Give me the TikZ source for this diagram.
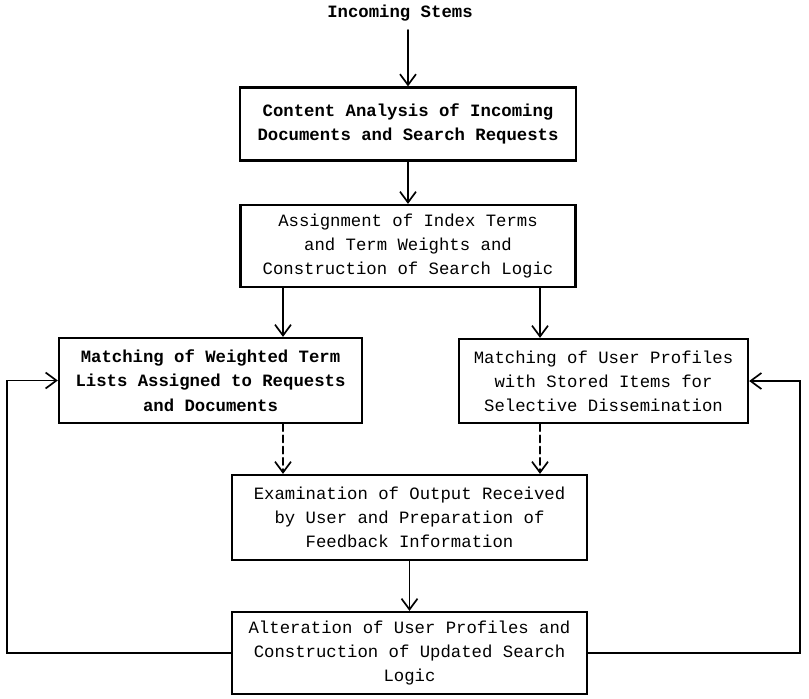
\documentclass[tikz,border=0pt]{standalone}
\usepackage{fontspec}
\setmonofont{Liberation Mono}
\usepackage{tikz}
\usetikzlibrary{arrows.meta,calc}
\tikzset{
  flowbox/.style={draw=black, line width=1.6pt, align=center, inner sep=2pt,
                  font=\ttfamily\fontsize{12.3}{17.2}\selectfont},
  boldbox/.style={flowbox, font=\ttfamily\bfseries\fontsize{12.3}{17.2}\selectfont},
  flowarrow/.style={line width=1.3pt, -{Straight Barb[length=2.7mm,width=4mm,line width=1.2pt]}},
  optarrow/.style={flowarrow, dash pattern=on 5pt off 3pt},
  headlabel/.style={font=\ttfamily\bfseries\fontsize{12.3}{17.2}\selectfont},
}

\begin{document}
\begin{tikzpicture}[x=0.025cm, y=-0.025cm, line cap=round]
  \useasboundingbox (0,0) rectangle (809,698);
  % ====== top: incoming stems ======
  \node[headlabel] (stems) at (400,13) {Incoming Stems};
  \node[boldbox, minimum width=8.4cm, minimum height=1.825cm] (content) at (408,124)
    {Content Analysis of Incoming\\Documents and Search Requests};
  \node[flowbox, minimum width=8.375cm, minimum height=2.05cm] (assign) at (408,246)
    {Assignment of Index Terms\\and Term Weights and\\Construction of Search Logic};
  % ====== the two matching boxes ======
  \node[boldbox, minimum width=7.575cm, minimum height=2.125cm] (matchL) at (210.5,380.5)
    {Matching of Weighted Term\\Lists Assigned to Requests\\and Documents};
  \node[flowbox, minimum width=7.225cm, minimum height=2.1cm] (matchR) at (603.5,381)
    {Matching of User Profiles\\with Stored Items for\\Selective Dissemination};
  % ====== examination and alteration ======
  \node[flowbox, minimum width=8.875cm, minimum height=2.125cm] (exam) at (409.5,517.5)
    {Examination of Output Received\\by User and Preparation of\\Feedback Information};
  \node[flowbox, minimum width=8.875cm, minimum height=2.05cm] (alter) at (409.5,653)
    {Alteration of User Profiles and\\Construction of Updated Search\\Logic};
  % columns for the side arrows
  \coordinate (lx) at (283,0);
  \coordinate (rx) at (540,0);
  \coordinate (fbL) at (7,0);
  \coordinate (fbR) at (800,0);
  % ====== connectors ======
  \draw[flowarrow] (content.north |- stems.south) ++(0,4) -- (content.north);
  \draw[flowarrow] (content) -- (assign);
  \draw[flowarrow] (assign.south -| lx) -- (matchL.north -| lx);
  \draw[flowarrow] (assign.south -| rx) -- (matchR.north -| rx);
  \draw[optarrow] (matchL.south -| lx) -- (exam.north -| lx);
  \draw[optarrow] (matchR.south -| rx) -- (exam.north -| rx);
  \draw[flowarrow] (exam) -- (alter);
  % feedback loops
  \draw[flowarrow] (alter.west) -- (alter.west -| fbL) |- (matchL.west);
  \draw[flowarrow] (alter.east) -- (alter.east -| fbR) |- (matchR.east);
\end{tikzpicture}
\end{document}
